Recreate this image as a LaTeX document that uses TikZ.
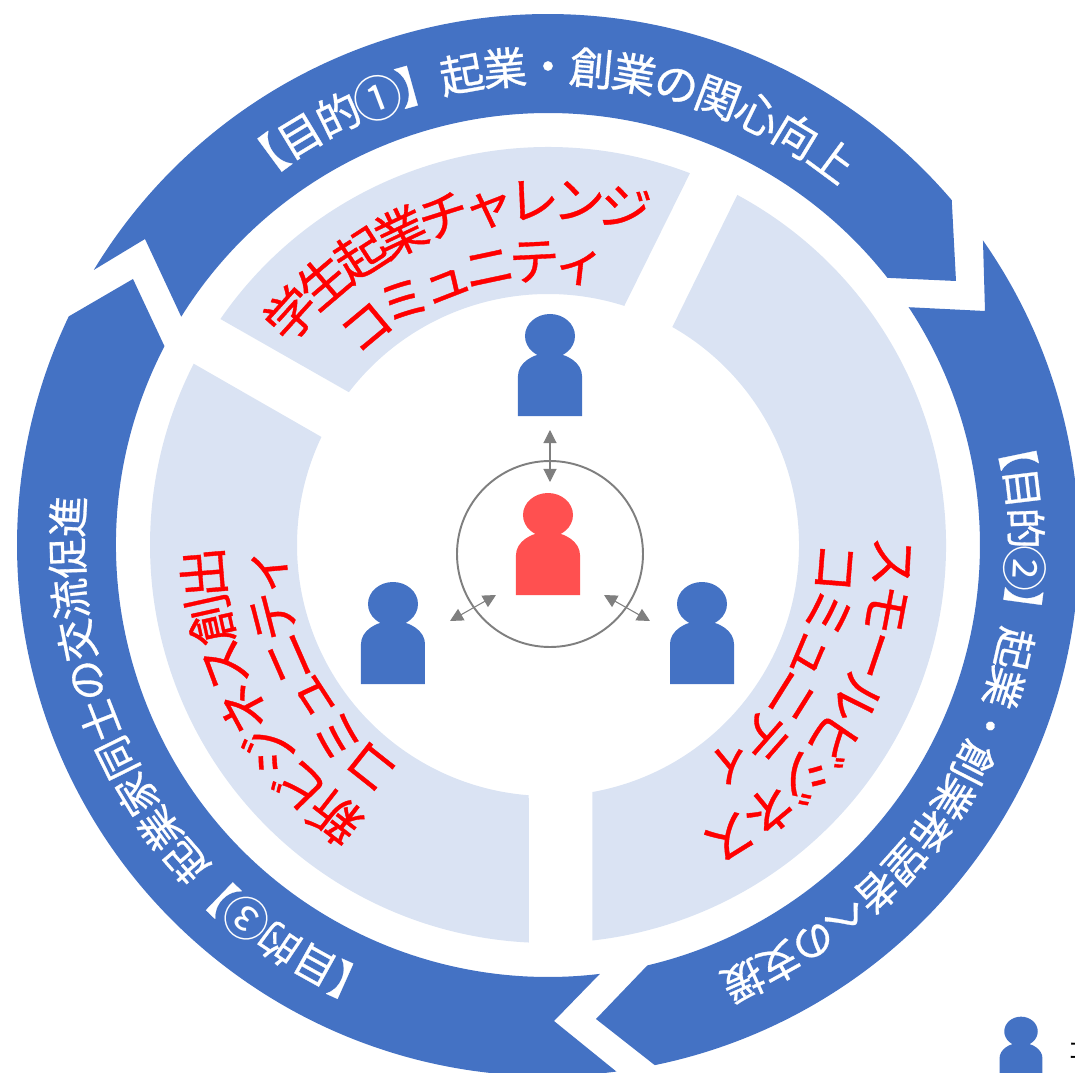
\documentclass[tikz,border=0pt]{standalone}
\usepackage{fontspec}
\usetikzlibrary{arrows.meta}
\newfontfamily\cjk[FakeBold=0.7]{Noto Sans CJK JP}
\newfontfamily\cjkplain{Noto Sans CJK JP}
\definecolor{ringblue}{HTML}{4472C4}
\definecolor{sectorblue}{HTML}{DAE3F3}
\definecolor{hostred}{HTML}{FF5050}
\definecolor{linkgray}{HTML}{7F7F7F}
\tikzset{
    goaltext/.style={text=white, font=\cjk\fontsize{25}{25}\selectfont, inner sep=0pt, text height=22pt, text depth=3pt},
    goalsmall/.style={text=white, font=\cjk\fontsize{23.5}{23.5}\selectfont, inner sep=0pt, text height=20.7pt, text depth=2.8pt},
    commtext/.style={text=red, font=\cjk\fontsize{29}{29}\selectfont, inner sep=0pt, text height=25.5pt, text depth=3.5pt},
    biarrow/.style={{Triangle[width=7.4pt,length=7.4pt]}-{Triangle[width=7.4pt,length=7.4pt]}, linkgray, line width=0.6pt},
    person/.pic={
        \fill[pic actions] (0,80) ellipse [x radius=25, y radius=22];
        \fill[pic actions] (-32,0) -- (-32,40) arc[start angle=180, end angle=0, x radius=32, y radius=23] -- (32,0) -- cycle;
    }
}
% one character per node, along a circle round the origin
\newcommand{\arctext}[6]{
    \foreach \ch [count=\i from 0] in {#6} {
        \pgfmathsetmacro{\a}{#3-\i*#4}
        \node[#2, rotate=\a-90] (#1\i) at (\a:#5) {\ch};
    }
}
\newcommand{\bignum}[1]{\raisebox{-0.06em}{\cjkplain\scalebox{1.12}{#1}}}
\begin{document}
\begin{tikzpicture}[x=0.02cm, y=0.02cm]
    \useasboundingbox (-548,-527) rectangle (527,545);
    \clip (-548,-527) rectangle (527,545);
    % Outer arrows
    \fill[ringblue] (148.8:531) arc[start angle=148.8, end angle=40.5, radius=531] -- (408,264)
        -- (38.2:432) arc[start angle=38.2, end angle=148.1, radius=432] -- (-403,306) -- cycle;
    \fill[ringblue] (35:531) arc[start angle=35, end angle=-78.4, radius=531] -- (48,-474)
        -- (-76.7:432) arc[start angle=-76.7, end angle=33.4, radius=432] -- (437,234) -- cycle;
    \fill[ringblue] (-82.6:531) arc[start angle=-82.6, end angle=-205.5, radius=531] -- (-415,266)
        -- (-207.4:432) arc[start angle=-207.4, end angle=-83.1, radius=432] -- (6,-476) -- cycle;
    % Inner sectors
    \fill[sectorblue] (145.4:398) arc[start angle=145.4, end angle=69.1, radius=398]
        -- (72.3:251) arc[start angle=72.3, end angle=142.5, radius=251] -- cycle;
    \fill[sectorblue] (61.6:398) arc[start angle=61.6, end angle=-83.6, radius=398]
        -- (-79.8:251) arc[start angle=-79.8, end angle=60.3, radius=251] -- cycle;
    \fill[sectorblue] (-92.75:398) arc[start angle=-92.75, end angle=-207.1, radius=398]
        -- (-205.5:251) arc[start angle=-205.5, end angle=-94.4, radius=251] -- cycle;
    % Goals on the ring
    \arctext{goalone}{goaltext}{126.4}{5.2}{479}{【,目,的,\bignum{①},】,起,業,・,創,業,の,関,心,向,上}
    \arctext{goaltwo}{goalsmall}{11.7}{4.85}{478}{【,目,的,\bignum{②},】,起,業,・,創,業,希,望,者,へ,の,支,援}
    \arctext{goalthree}{goalsmall}{245.9}{4.95}{481}{【,目,的,\bignum{③},】,起,業,家,同,士,の,交,流,促,進}
    % Community names
    \arctext{startout}{commtext}{138}{7.6}{346}{学,生,起,業,チ,ャ,レ,ン,ジ}
    \arctext{startin}{commtext}{129.8}{9.26}{285}{コ,ミ,ュ,ニ,テ,ィ}
    \arctext{smallout}{commtext}{-2.8}{7.9}{346}{ス,モ,ー,ル,ビ,ジ,ネ,ス}
    \arctext{smallin}{commtext}{-4.5}{9.2}{289}{コ,ミ,ュ,ニ,テ,ィ}
    \arctext{newout}{commtext}{232}{7.9}{346}{新,ビ,ジ,ネ,ス,創,出}
    \arctext{newin}{commtext}{231.6}{9.3}{285}{コ,ミ,ュ,ニ,テ,ィ}
    % Persons
    \foreach \x/\y/\c in {2/129/ringblue, 0/-50/hostred, -155/-139/ringblue, 154/-139/ringblue} {
        \pic[fill=\c] at (\x,\y) {person};
    }
    \pic[fill=ringblue, scale=0.67] at (473,-540) {person};
    \node[anchor=west, inner sep=0pt, font=\cjkplain\fontsize{13.6}{13.6}\selectfont] (legend) at (519,-506) {コ};
    % Circle and links
    \draw[linkgray, line width=1.1pt] (2,-9) circle (93);
    \coordinate (topa) at (2,115);
    \coordinate (topb) at (2,63);
    \coordinate (lefta) at (-98,-76);
    \coordinate (leftb) at (-52,-50);
    \coordinate (righta) at (56,-50);
    \coordinate (rightb) at (102,-76);
    \draw[biarrow] (topa) -- (topb);
    \draw[biarrow] (lefta) -- (leftb);
    \draw[biarrow] (righta) -- (rightb);
\end{tikzpicture}
\end{document}
